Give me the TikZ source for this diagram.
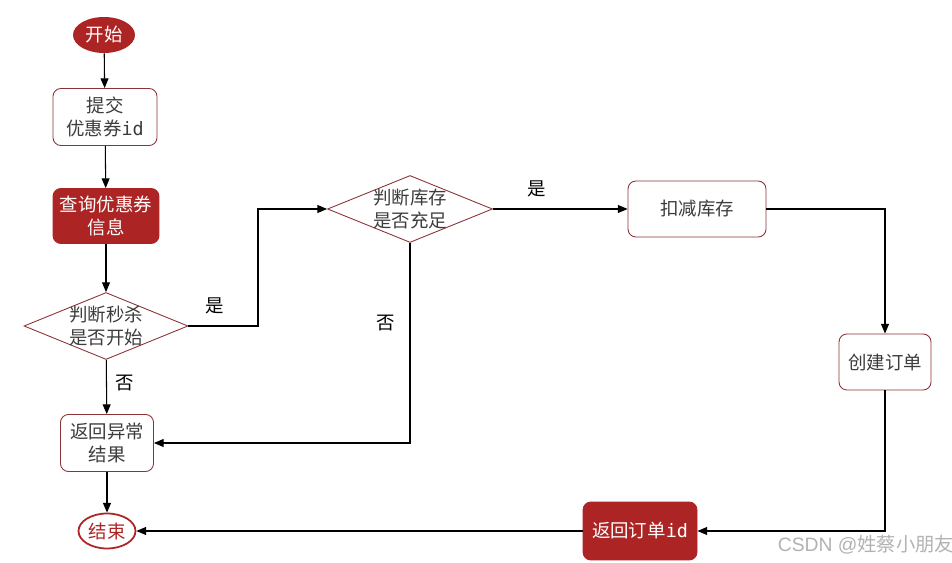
\documentclass[tikz,border=0pt]{standalone}
\usepackage{fontspec}
\setmainfont{Noto Sans CJK SC}
\newfontfamily\idfont{DejaVu Sans Mono}
\newfontfamily\markfont{Liberation Sans}
\usetikzlibrary{shapes.geometric,arrows.meta}

\definecolor{flowred}{RGB}{172,36,36}
\definecolor{flowborder}{RGB}{140,50,55}
\definecolor{flowtext}{RGB}{60,60,60}

\begin{document}
\begin{tikzpicture}[x=0.02cm, y=-0.02cm,
    font=\fontsize{10.5}{13.5}\selectfont,
    line/.style={draw=black, line width=0.6pt, -{Triangle[length=5.5pt,width=4.5pt]}},
    box/.style={rectangle, rounded corners=4.5pt, draw=flowborder, line width=0.5pt,
        fill=white, text=flowtext, align=center, inner sep=0pt},
    redbox/.style={box, fill=flowred, draw=flowred, text=white},
    terminal/.style={ellipse, inner sep=0pt, align=center},
    decision/.style={diamond, draw=flowborder, line width=0.5pt, inner sep=0pt,
        minimum width=3.3cm, minimum height=1.34cm},
    tag/.style={text=black}]

    \useasboundingbox (0,0) rectangle (952,563);

    % Start und Ende
    \node[terminal, fill=flowred, text=white, minimum width=1.24cm, minimum height=0.72cm]
        (start) at (104,35) {开始};
    \node[terminal, draw=flowred, line width=1pt, fill=white, text=flowred,
        minimum width=1.14cm, minimum height=0.70cm] (stop) at (107,531) {结束};

    % linke Spalte
    \node[box, minimum width=2.08cm, minimum height=1.14cm] (submit) at (105,117)
        {提交\\优惠券{\idfont id}};
    \node[redbox, minimum width=2.12cm, minimum height=1.10cm] (query) at (106,216)
        {查询优惠券\\信息};
    \node[decision, minimum width=3.28cm,
        label={[align=center, text=flowtext]center:判断秒杀\\是否开始}] (chk1) at (106,326) {};
    \node[box, minimum width=1.86cm, minimum height=1.14cm] (err) at (107,443)
        {返回异常\\结果};

    % rechte Seite
    \node[decision,
        label={[align=center, text=flowtext]center:判断库存\\是否充足}] (chk2) at (410,209) {};
    \node[box, minimum width=2.76cm, minimum height=1.12cm] (deduct) at (697,209) {扣减库存};
    \node[box, minimum width=1.84cm, minimum height=1.12cm] (create) at (885,362) {创建订单};
    \node[redbox, minimum width=2.28cm, minimum height=1.16cm] (retid) at (640,531)
        {返回订单{\idfont id}};

    % Knick
    \coordinate (bend) at (258,0);

    % Pfeile
    \draw[line] (start) -- (submit);
    \draw[line] (submit) -- (query);
    \draw[line] (query) -- (chk1);
    \draw[line] (chk1.east) -- (chk1.east -| bend) |- (chk2.west);
    \draw[line] (chk1) -- (err);
    \draw[line] (chk2.south) |- (err.east);
    \draw[line] (chk2) -- (deduct);
    \draw[line] (deduct.east) -| (create.north);
    \draw[line] (create.south) |- (retid.east);
    \draw[line] (retid) -- (stop);
    \draw[line] (err) -- (stop);

    % Beschriftung
    \node[tag] (yes1) at (215,306) {是};
    \node[tag] (no1) at (125,383) {否};
    \node[tag] (no2) at (386,323) {否};
    \node[tag] (yes2) at (537,189) {是};

    % Wasserzeichen
    \node[text=black!30, font=\fontsize{11}{13}\selectfont] (mark) at (866,545)
        {{\markfont CSDN @}姓蔡小朋友};
\end{tikzpicture}
\end{document}
